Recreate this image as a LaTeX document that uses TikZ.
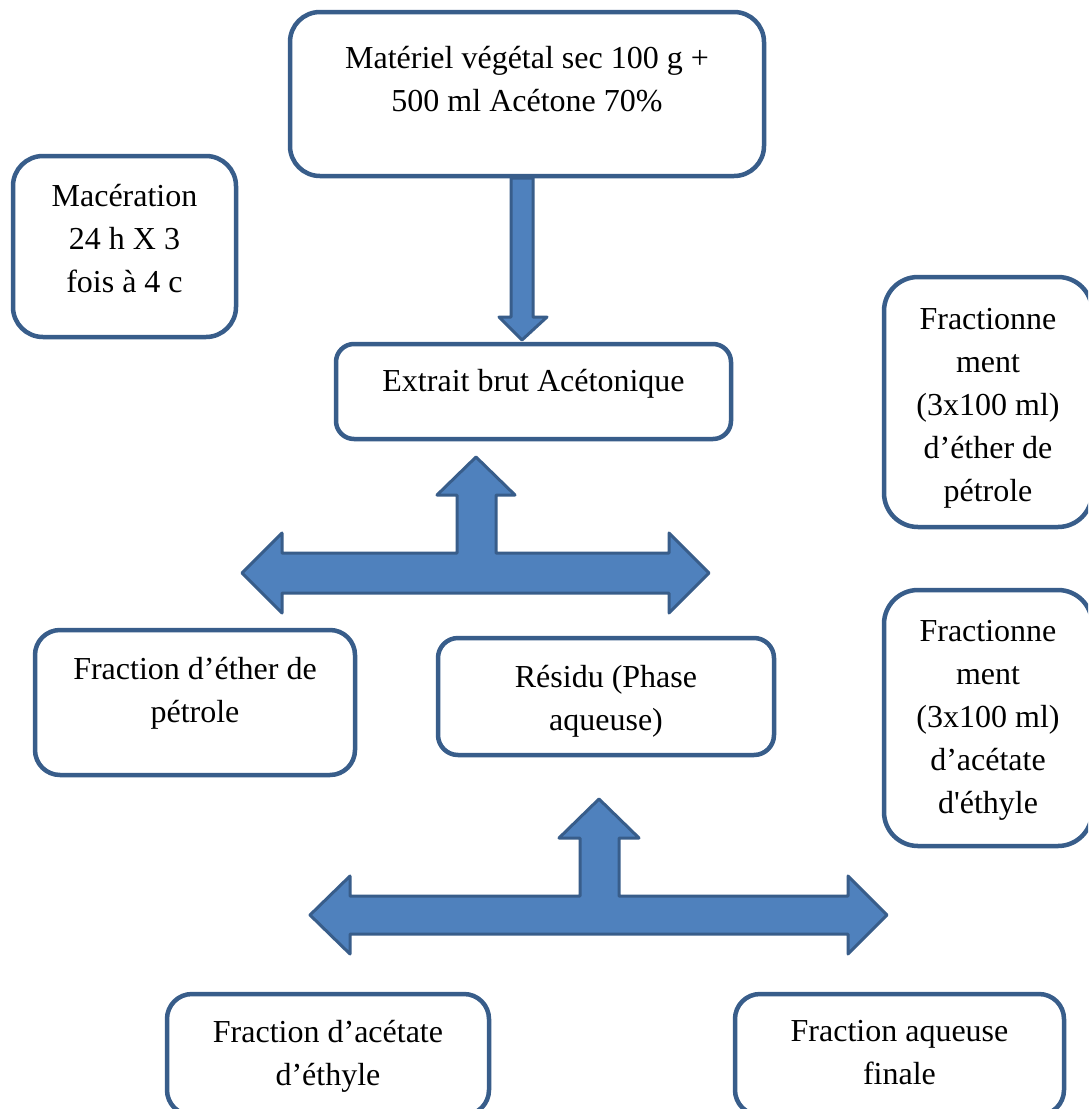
\documentclass[tikz,border=0pt]{standalone}
\usepackage{fontspec}
\setmainfont{Liberation Serif}[Ligatures=TeXOff]
\definecolor{bord}{HTML}{385D8A}
\definecolor{afill}{HTML}{4F81BD}
\tikzset{
  box/.style={draw=bord, line width=4.5pt, fill=white, inner sep=0pt},
  txt/.style={anchor=north, inner sep=0pt, align=center, font=\fontsize{32}{43}\selectfont},
  blockarrow/.style={draw=bord, fill=afill, line width=3pt, line join=round},
}
\begin{document}
\begin{tikzpicture}[x=1pt,y=-1pt]
\useasboundingbox (0,0) rectangle (1088,1109);
\clip (0,0) rectangle (1088,1109);
\fill[white] (0,0) rectangle (1088,1109);

% block arrows
\draw[blockarrow] (511,178) -- (533,178) -- (533,317) -- (547,317) -- (522,340) -- (499,317) -- (511,317) -- cycle;
\draw[blockarrow] (476,457) -- (515,495) -- (496,495) -- (496,553) -- (669,553) -- (669,533) -- (709,573)
  -- (669,613) -- (669,593) -- (282,593) -- (282,613) -- (242,573) -- (282,533) -- (282,553)
  -- (457,553) -- (457,495) -- (437,495) -- cycle;
\draw[blockarrow] (599,799) -- (639,838) -- (619,838) -- (619,896) -- (848,896) -- (848,876) -- (887,915)
  -- (848,954) -- (848,934) -- (350,934) -- (350,954) -- (310,915) -- (350,876) -- (350,896)
  -- (580,896) -- (580,838) -- (559,838) -- cycle;

% boxes
\node[box, rounded corners=30pt, minimum width=474pt, minimum height=164pt] (top) at (527,94) {};
\node[box, rounded corners=30pt, minimum width=223pt, minimum height=181pt] (mac) at (124.5,246.5) {};
\node[box, rounded corners=18pt, minimum width=395pt, minimum height=95pt] (extrait) at (533.5,391.5) {};
\node[box, rounded corners=34pt, minimum width=208pt, minimum height=250pt] (frac1) at (988,402) {};
\node[box, rounded corners=34pt, minimum width=208pt, minimum height=256pt] (frac2) at (988,718) {};
\node[box, rounded corners=25pt, minimum width=320pt, minimum height=145pt] (ether) at (195,702.5) {};
\node[box, rounded corners=20pt, minimum width=336pt, minimum height=117pt] (residu) at (606,696.5) {};
\node[box, rounded corners=25pt, minimum width=322pt, minimum height=121pt] (acetate) at (328,1054.5) {};
\node[box, rounded corners=25pt, minimum width=329pt, minimum height=121pt] (aqueuse) at (899.5,1054.5) {};

% texts
\node[txt] (topT) at (527,46) {Matériel végétal sec 100 g +\\500 ml Acétone 70\%};
\node[txt] (macT) at (124.5,184) {Macération\\24 h X 3\\fois à 4 c};
\node[txt] (extraitT) at (533.5,369) {Extrait brut Acétonique};
\node[txt] (frac1T) at (988,308) {Fractionne\\ment\\(3x100 ml)\\d’éther de\\pétrole};
\node[txt] (frac2T) at (988,620) {Fractionne\\ment\\(3x100 ml)\\d’acétate\\d'éthyle};
\node[txt] (etherT) at (195,657) {Fraction d’éther de\\pétrole};
\node[txt] (residuT) at (606,665) {Résidu (Phase\\aqueuse)};
\node[txt] (acetateT) at (328,1020) {Fraction d’acétate\\d’éthyle};
\node[txt] (aqueuseT) at (899.5,1020) {Fraction aqueuse\\finale};
\end{tikzpicture}
\end{document}
